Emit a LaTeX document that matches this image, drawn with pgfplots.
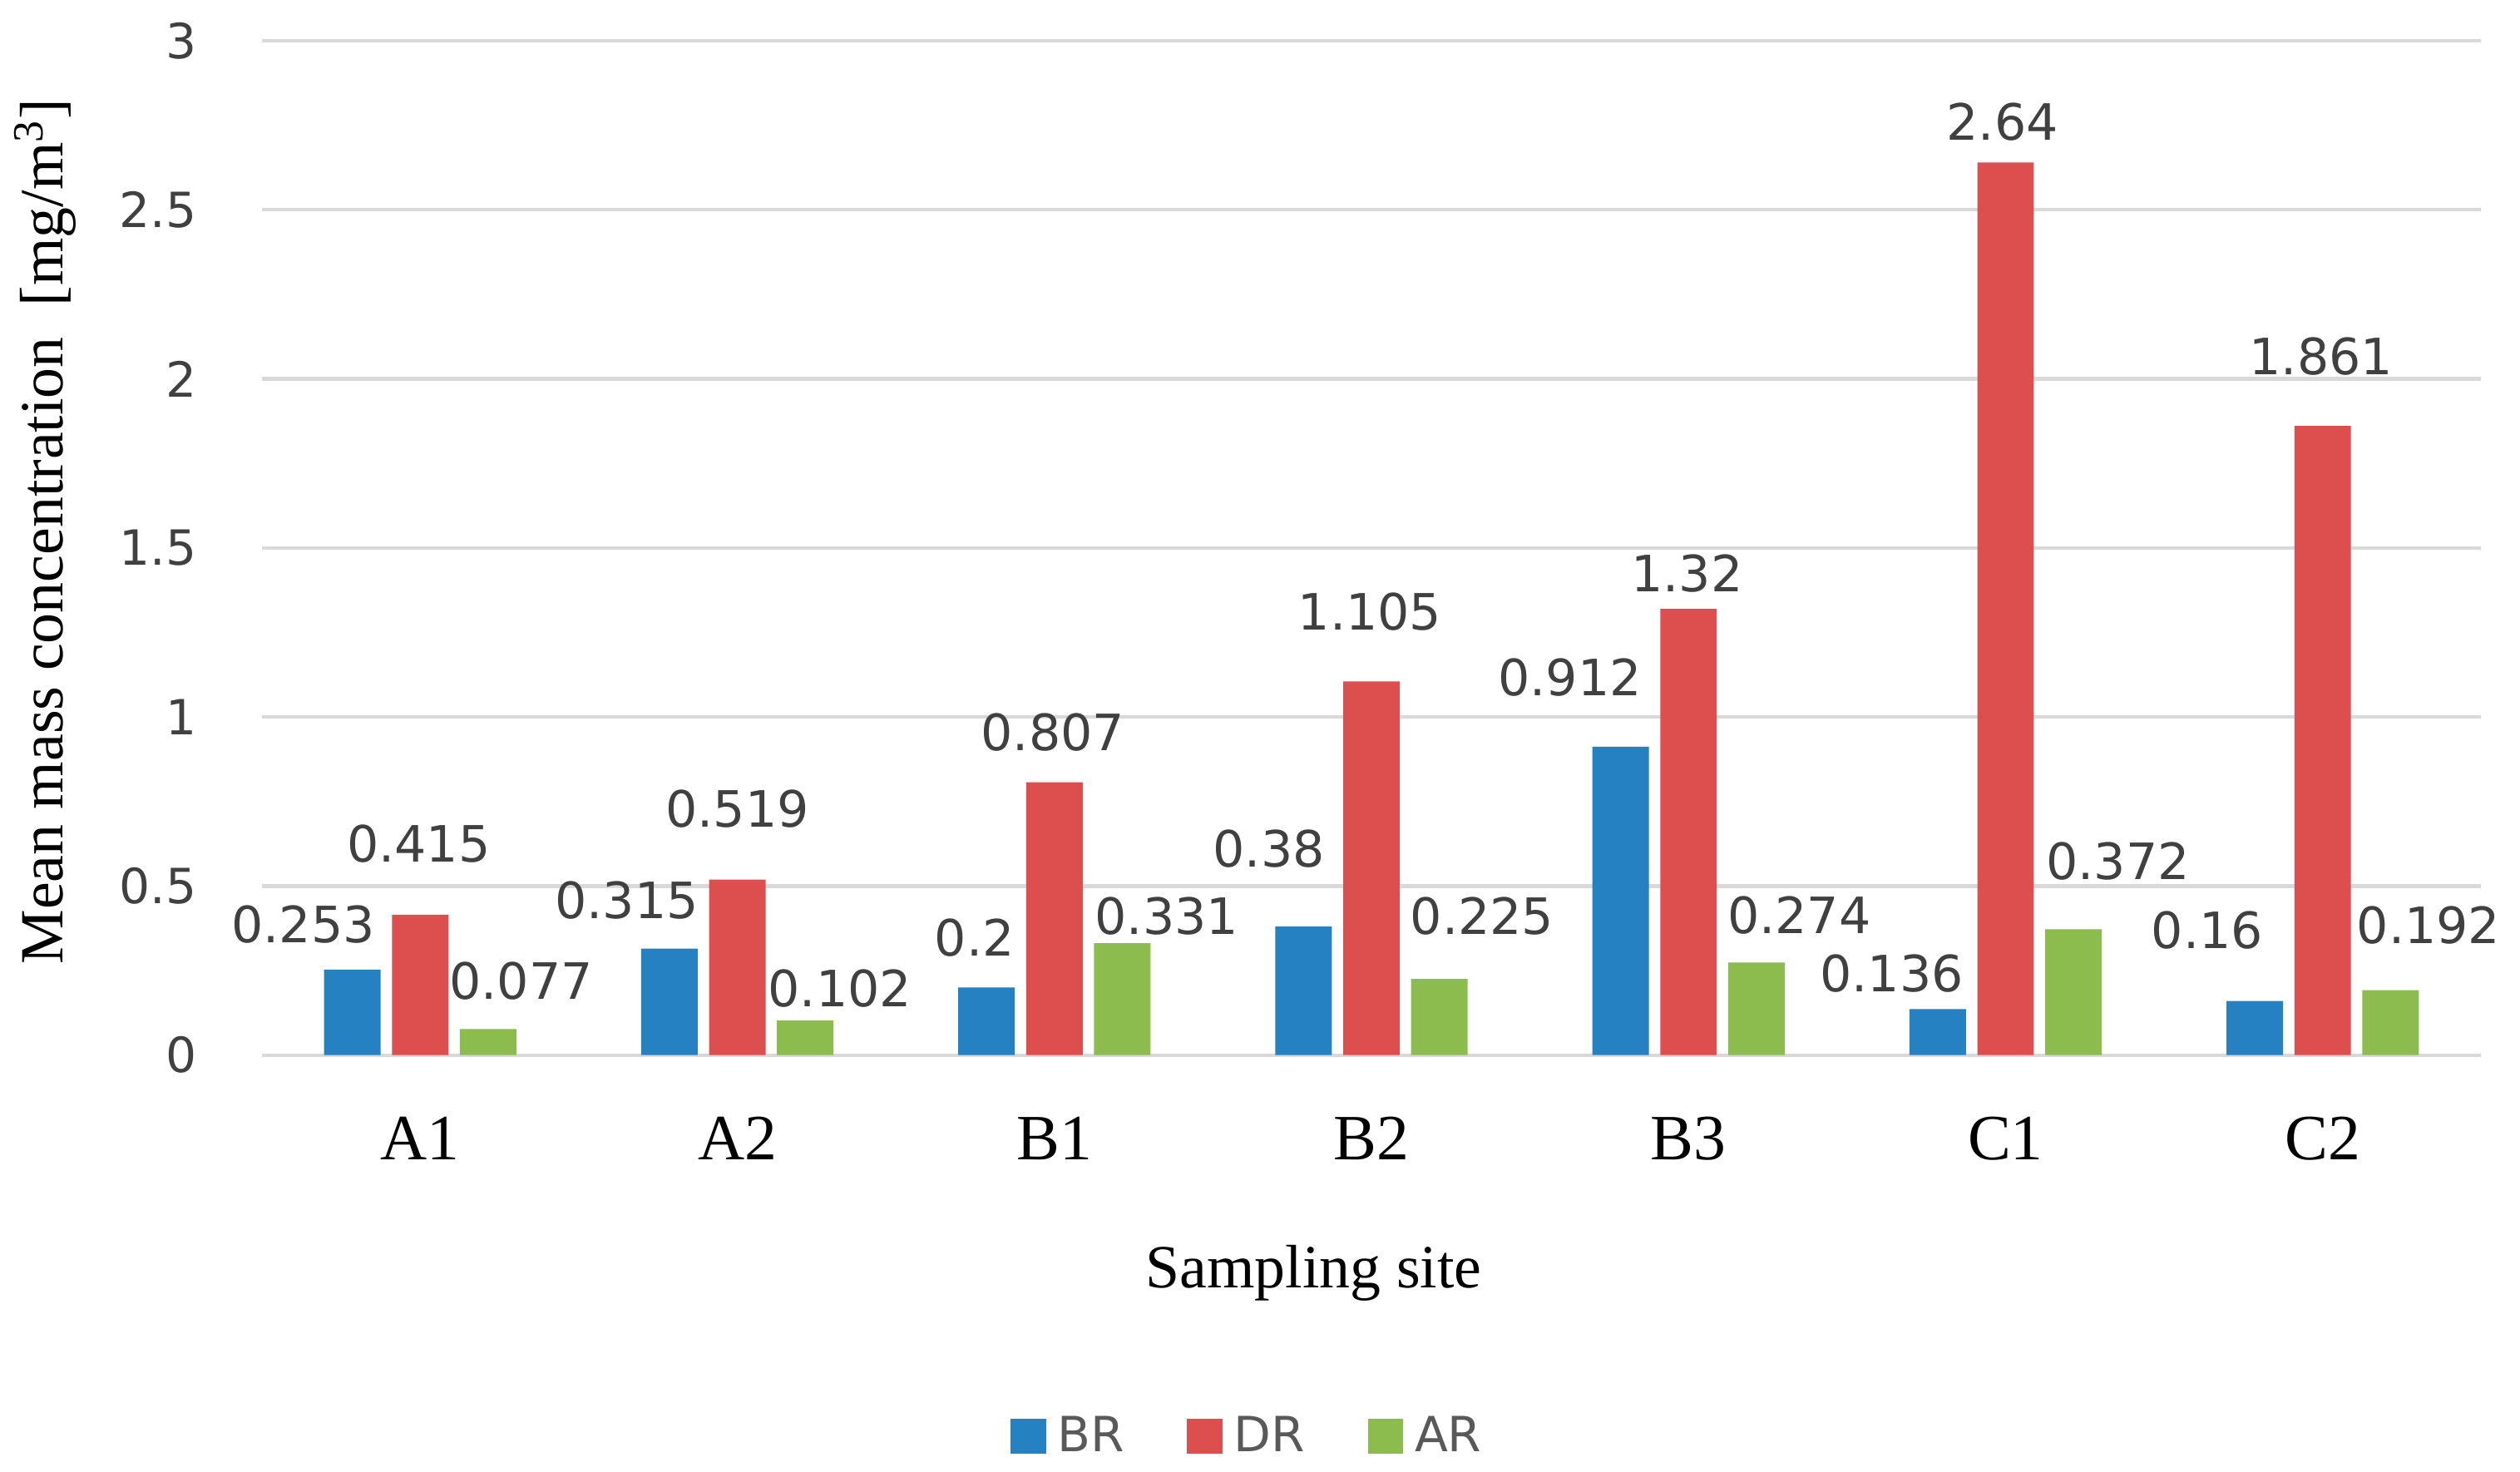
\documentclass[border=0pt]{standalone}
\usepackage{fontspec}
\setmainfont{Liberation Serif}
\newfontfamily\dv{DejaVu Sans}
\usepackage{pgfplots}
\usepackage{pgfplotstable}
\pgfplotsset{compat=1.18}
\definecolor{cBR}{HTML}{2581C1}
\definecolor{cDR}{HTML}{DD4F4F}
\definecolor{cAR}{HTML}{8CBB4E}
\definecolor{txt}{HTML}{404040}
\definecolor{leg}{HTML}{595959}
\definecolor{grd}{HTML}{D9D9D9}

\pgfplotstableread{
x y dx dy lab
0 0.253 -15.25 14 0.253
1 0.315 -13.25 15 0.315
2 0.2 -3.75 15.5 0.2
3 0.38 -10.75 24 0.38
4 0.912 -15.75 21.5 0.912
5 0.136 -14.25 11 0.136
6 0.16 -14.75 22 0.16
}\tblBR
\pgfplotstableread{
x y dx dy lab
0 0.415 -0.5 22 0.415
1 0.519 0 22 0.519
2 0.807 -0.5 15.5 0.807
3 1.105 -0.5 21.5 1.105
4 1.32 -0.5 11 1.32
5 2.64 -1 12.5 2.64
6 1.861 -0.5 21.5 1.861
}\tblDR
\pgfplotstableread{
x y dx dy lab
0 0.077 10.25 15 0.077
1 0.102 10.75 10 0.102
2 0.331 13.75 8.5 0.331
3 0.225 13.25 19.5 0.225
4 0.274 13.25 14.5 0.274
5 0.372 13.75 21 0.372
6 0.192 11.75 20 0.192
}\tblAR

\begin{document}
\begin{tikzpicture}
\path[use as bounding box] (-81pt,-129pt) rectangle (699pt,326.6pt);
\begin{axis}[
  at={(0pt,0pt)}, anchor=south west,
  scale only axis,
  width=687pt, height=314pt,
  ybar=3.5pt, bar width=17.5pt,
  xmin=-0.5, xmax=6.5, ymin=0, ymax=3,
  clip=false,
  axis line style={draw=none},
  tick style={draw=none},
  ymajorgrids, grid style={grd, line width=1.1pt},
  xtick={0,1,2,3,4,5,6},
  xticklabels={A1,A2,B1,B2,B3,C1,C2},
  xticklabel style={font=\fontsize{20}{24}\selectfont, anchor=center, yshift=-21.5pt, text=black},
  ytick={0,0.5,1,1.5,2,2.5,3},
  yticklabels={0,0.5,1,1.5,2,2.5,3},
  yticklabel style={font=\dv\fontsize{15}{18}\selectfont, anchor=east, inner sep=0pt, xshift=-20pt, text=txt},
  xlabel={Sampling site},
  xlabel style={font=\fontsize{19}{23}\selectfont, at={(rel axis cs:0.474,0)}, anchor=center, yshift=-67.5pt},
  ylabel={Mean mass concentration\ \ [mg/m\textsuperscript{3}]},
  ylabel style={font=\fontsize{19}{23}\selectfont, at={(axis description cs:-0.0975,0.516)}, anchor=center},
  legend columns=-1,
  legend style={draw=none, fill=none, at={(rel axis cs:0.446,0)}, anchor=center, yshift=-118pt,
    font=\dv\fontsize{15}{18}\selectfont, text=leg,
    /tikz/every even column/.append style={column sep=16pt},
    nodes={inner xsep=3.5pt}},
  legend image code/.code={\fill[#1] (0pt,-5.5pt) rectangle (11pt,5.5pt);},
  nodes near coords,
  point meta=explicit symbolic,
  visualization depends on={\thisrow{dx} \as \dx},
  visualization depends on={\thisrow{dy} \as \dy},
  every node near coord/.append style={font=\dv\fontsize{15.5}{18}\selectfont, text=txt, anchor=center, xshift=\dx pt, yshift=\dy pt},
]
\addplot[fill=cBR, draw=none] table[x=x, y=y, meta=lab] {\tblBR};
\addplot[fill=cDR, draw=none] table[x=x, y=y, meta=lab] {\tblDR};
\addplot[fill=cAR, draw=none] table[x=x, y=y, meta=lab] {\tblAR};
\legend{BR,DR,AR}
\end{axis}
\end{tikzpicture}
\end{document}
